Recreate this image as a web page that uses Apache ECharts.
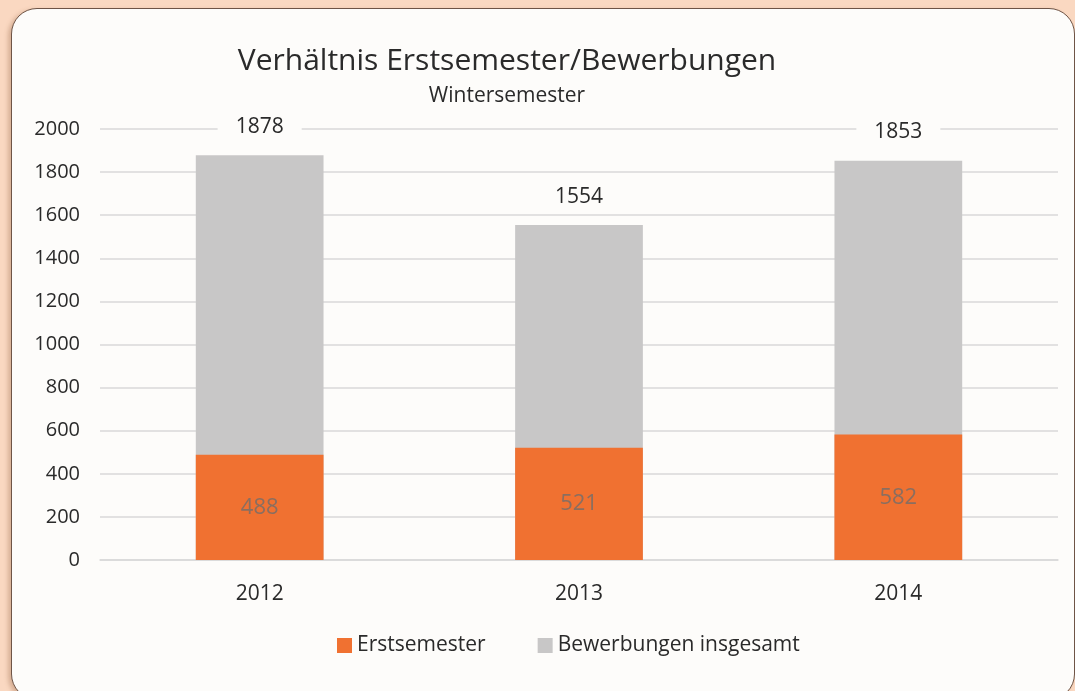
<!DOCTYPE html>
<html>
<head>
<meta charset="utf-8">
<script src="https://cdn.jsdelivr.net/npm/echarts@6/dist/echarts.min.js"></script>
<style>
  html, body { margin: 0; padding: 0; width: 1075px; height: 691px; background: #fad8c1; overflow: hidden; }
  #panel { position: absolute; left: 11px; top: 8px; width: 1062px; height: 690px; border: 1px solid #6e5446; border-radius: 26px; background: #fdfcfa; box-shadow: -3px 2px 4px rgba(150,100,70,0.35); }
  #chart { position: absolute; left: 0; top: 0; width: 1075px; height: 691px; }
</style>
</head>
<body>
<div id="panel"></div>
<div id="chart"></div>
<script>
// Jahre
const years = ["2012", "2013", "2014"];
// Erstsemester
const erstsemester = [488, 521, 582];
// Bewerbungen insgesamt
const bewerbungen = [1878, 1554, 1853];

const font = "'Open Sans', sans-serif";
const myChart = echarts.init(document.getElementById("chart"));
myChart.setOption({
  backgroundColor: "transparent",
  title: {
    text: "Verhältnis Erstsemester/Bewerbungen",
    subtext: "Wintersemester",
    left: 502,
    textAlign: "center",
    top: 41,
    itemGap: 10,
    textStyle: { fontFamily: font, fontSize: 30, fontWeight: "normal", color: "#2a2a2a" },
    subtextStyle: { fontFamily: font, fontSize: 21, color: "#2a2a2a" },
  },
  legend: {
    data: ["Erstsemester", "Bewerbungen insgesamt"],
    bottom: 30,
    left: 332,
    icon: "rect",
    itemWidth: 15,
    itemHeight: 15,
    itemGap: 52,
    textStyle: { fontFamily: font, fontSize: 21, color: "#2a2a2a" },
  },
  grid: {
    left: 100,
    right: 17,
    top: 129,
    bottom: 131,
  },
  xAxis: {
    type: "category",
    data: years,
    axisLine: { lineStyle: { color: "#d9d9d9", width: 1.5 } },
    axisTick: { show: false },
    axisLabel: { fontFamily: font, fontSize: 21, color: "#2a2a2a", margin: 24 },
  },
  yAxis: {
    type: "value",
    min: 0,
    max: 2000,
    interval: 200,
    axisLine: { show: false },
    axisTick: { show: false },
    axisLabel: { fontFamily: font, fontSize: 20, color: "#2a2a2a", margin: 20, formatter: (v) => String(v) },
    splitLine: { lineStyle: { color: "#d9d9d9", width: 1.5 } },
  },
  series: [
    {
      name: "Bewerbungen insgesamt",
      type: "bar",
      barWidth: "40%",
      data: bewerbungen,
      itemStyle: { color: "#c8c7c7" },
      label: {
        show: true,
        position: "top",
        distance: 16,
        fontFamily: font,
        fontSize: 21,
        color: "#2a2a2a",
        backgroundColor: "#fdfcfa",
        padding: [2, 18],
      },
    },
    {
      name: "Erstsemester",
      type: "bar",
      barWidth: "40%",
      barGap: "-100%",
      data: erstsemester,
      itemStyle: { color: "#f07131" },
      label: {
        show: true,
        position: "inside",
        fontFamily: font,
        fontSize: 22,
        color: "#8a6e60",
      },
    },
  ],
});
</script>
</body>
</html>
